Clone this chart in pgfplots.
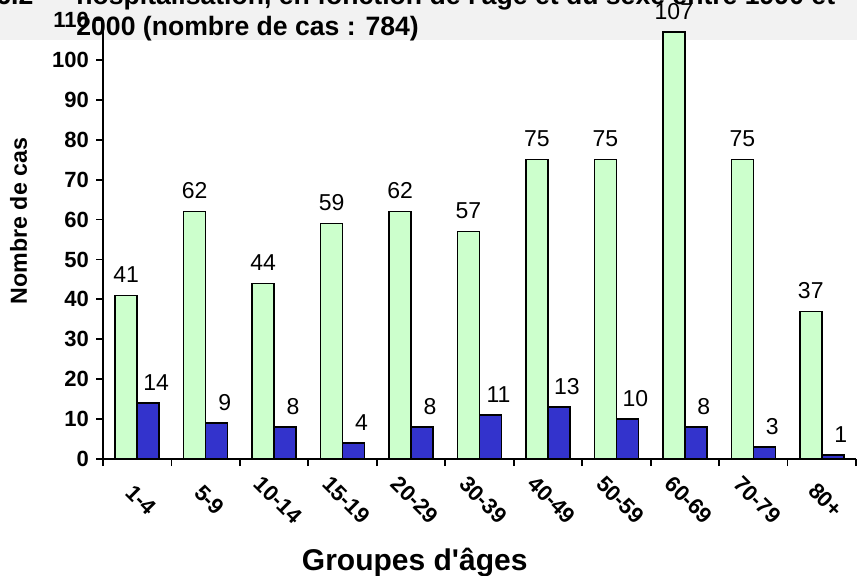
\documentclass[border=0pt]{standalone}
\usepackage{fontspec}
\setmainfont{Liberation Sans}
\usepackage{pgfplots}
\pgfplotsset{compat=1.18}
\definecolor{vert}{HTML}{CCFFCC}
\definecolor{bleu}{HTML}{3333CC}
\definecolor{bande}{HTML}{F2F2F2}

\begin{document}
\begin{tikzpicture}
\useasboundingbox (0,0) rectangle (428.5pt,287.5pt);
\clip (0,0) rectangle (428.5pt,287.5pt);
\fill[bande] (0,267.5pt) rectangle (428.5pt,287.5pt);
\begin{axis}[
  at={(51.5pt,58pt)}, anchor=south west,
  scale only axis, width=376.5pt, height=219.5pt,
  xmin=-0.5, xmax=10.5, ymin=0, ymax=110,
  axis lines=left, axis line style={-, line width=0.9pt},
  ytick={0,10,...,110},
  xtick={-0.5,0.5,...,10.5}, xticklabels={},
  extra x ticks={0,1,...,10},
  extra x tick labels={1-4,5-9,10-14,15-19,20-29,30-39,40-49,50-59,60-69,70-79,80+},
  extra x tick style={major tick length=0pt},
  tick align=outside, major tick length=3.5pt,
  tick style={line width=0.9pt, black},
  /pgf/number format/assume math mode=true,
  ticklabel style={font=\bfseries\fontsize{11}{13}\selectfont},
  xticklabel style={yshift=-20.5pt, xshift=2pt, rotate=-45, anchor=center},
  ylabel={Nombre de cas},
  ylabel style={at={(axis description cs:-0.112,0.542)}, anchor=center,
    font=\bfseries\fontsize{11.6}{13}\selectfont},
  xlabel={Groupes d\textquotesingle âges},
  xlabel style={at={(axis description cs:0.414,-0.235)}, anchor=center,
    font=\bfseries\fontsize{15}{17}\selectfont},
  ybar=0pt, bar width=11pt,
  nodes near coords,
  every node near coord/.append style={font=\fontsize{11.5}{13}\selectfont, yshift=2.5pt},
]
\addplot[fill=vert, draw=black, line width=0.8pt] coordinates {
  (0,41) (1,62) (2,44) (3,59) (4,62) (5,57) (6,75) (7,75) (8,107) (9,75) (10,37)};
\addplot[fill=bleu, draw=black, line width=0.8pt,
  every node near coord/.append style={xshift=4pt}] coordinates {
  (0,14) (1,9) (2,8) (3,4) (4,8) (5,11) (6,13) (7,10) (8,8) (9,3) (10,1)};
\end{axis}
\begin{scope}[every node/.style={anchor=base west, inner sep=0pt,
    font=\bfseries\fontsize{13.3}{15}\selectfont}]
\node at (-2pt,285.5pt) {6.2};
\node at (38pt,285.5pt) {hospitalisation, en fonction de l\textquotesingle âge et du sexe entre 1990 et};
\node at (38pt,270pt) {2000 (nombre de cas : 784)};
\end{scope}
\end{tikzpicture}
\end{document}
